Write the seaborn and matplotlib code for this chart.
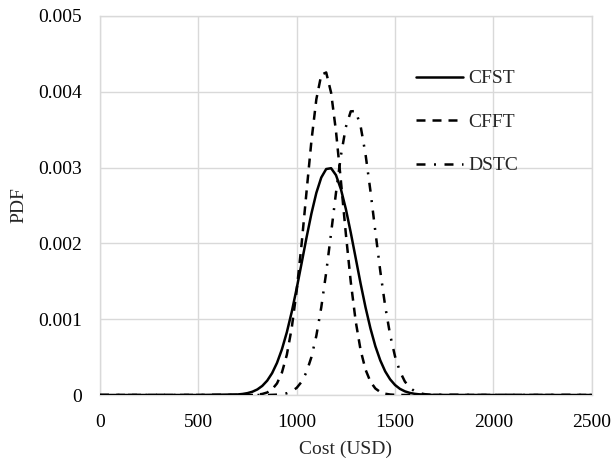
import numpy as np
import pandas as pd
import matplotlib
matplotlib.use("Agg")
import matplotlib.pyplot as plt
import seaborn as sns

# Cost grid (USD)
cost = [0, 500, 700, 725, 750, 775, 800, 825, 850, 875, 900, 925, 950, 975,
        1000, 1025, 1050, 1075, 1100, 1125, 1150, 1175, 1200, 1225, 1250,
        1275, 1300, 1325, 1350, 1375, 1400, 1425, 1450, 1475, 1500, 1525,
        1550, 1575, 1600, 1625, 1650, 1675, 1700, 2000, 2500]

cfst = [0, 0, 0.0000073, 0.0000137, 0.0000248, 0.0000434, 0.0000734, 0.000120,
        0.000189, 0.000288, 0.000424, 0.000603, 0.000828, 0.001098, 0.001406,
        0.001738, 0.002076, 0.002394, 0.002667, 0.002869, 0.002981, 0.002992,
        0.002900, 0.002714, 0.002454, 0.002142, 0.001807, 0.001470, 0.001157,
        0.000879, 0.000644, 0.000457, 0.000312, 0.000207, 0.000132, 0.0000812,
        0.0000484, 0.0000278, 0.0000155, 0.0000083, 0.0000042, 0.000002, 0.000001,
        0, 0]

cfft = [0, 0, 0, 0, 0, 0.0000005, 0.0000054, 0.0000138, 0.0000331, 0.0000739,
        0.000153, 0.000296, 0.000531, 0.000887, 0.001378, 0.001991, 0.002679,
        0.003353, 0.003902, 0.004224, 0.004255, 0.003988, 0.003476, 0.002819,
        0.002126, 0.001492, 0.000974, 0.000592, 0.000335, 0.000176, 0.0000859,
        0.0000391, 0.0000165, 0.0000065, 0.0000024, 0.0000008, 0, 0, 0, 0, 0,
        0, 0, 0, 0]

dstc = [0, 0, 0, 0, 0, 0, 0, 0, 0, 0.0000018, 0.0000046, 0.0000107, 0.0000233,
        0.0000481, 0.0000941, 0.000174, 0.000303, 0.000501, 0.000782, 0.001156,
        0.001615, 0.002136, 0.002671, 0.003160, 0.003535, 0.003742, 0.003746,
        0.003547, 0.003177, 0.002692, 0.002157, 0.001636, 0.001172, 0.000795,
        0.000510, 0.000310, 0.000178, 0.0000964, 0.0000495, 0.0000241,
        0.0000110, 0.0000048, 0.000002, 0, 0]

series_names = ["CFST", "CFFT", "DSTC"]
x_ticks = [0, 500, 1000, 1500, 2000, 2500]
y_ticks = [0, 0.001, 0.002, 0.003, 0.004, 0.005]
y_tick_labels = ["0", "0.001", "0.002", "0.003", "0.004", "0.005"]

sns.set_theme(style="white")
plt.rcParams["font.family"] = ["Liberation Serif", "DejaVu Serif"]

fig = plt.figure(figsize=(6.15, 4.66), dpi=100)
ax = fig.add_axes([100 / 615, 1 - 395 / 466, 491.7 / 615, 379 / 466])

styles = ["-", (0, (3.6, 2.8)), (0, (3.6, 3.4, 0.8, 3.4))]
for name, vals, ls in zip(series_names, [cfst, cfft, dstc], styles):
    sns.lineplot(x=cost, y=vals, ax=ax, color="black", lw=1.8,
                 linestyle=ls, label=name, zorder=3)

ax.set_xlim(0, 2500)
ax.set_ylim(0, 0.005)
ax.set_xticks(x_ticks)
ax.set_xticklabels([str(t) for t in x_ticks])
ax.set_yticks(y_ticks)
ax.set_yticklabels(y_tick_labels)
ax.grid(True, color="#d9d9d9", lw=1)
for s in ax.spines.values():
    s.set_color("#d9d9d9")
    s.set_linewidth(1)
ax.tick_params(axis="both", length=0, labelsize=14, colors="black")
ax.tick_params(axis="x", pad=14)
ax.tick_params(axis="y", pad=13)
ax.set_xlabel("Cost (USD)", fontsize=14, labelpad=7)
ax.set_ylabel("PDF", fontsize=14, labelpad=8)

leg = ax.legend(loc="upper left", bbox_to_anchor=(0.643, 0.858), frameon=False,
                fontsize=14, handlelength=2.4, handletextpad=0.3,
                labelspacing=1.33, borderpad=0, borderaxespad=0)

fig.savefig("out.png", dpi=100)
